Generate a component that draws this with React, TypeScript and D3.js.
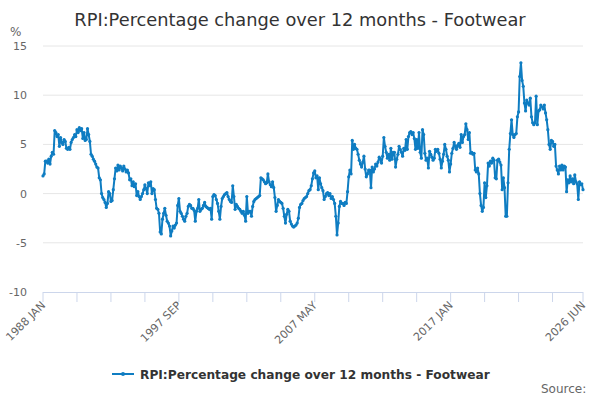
import React from 'react';
import * as d3 from 'd3';

// monthly values, % change over 12 months, 1988 JAN .. 2026 JUN
const y1988 = [1.8, 2.0, 3.3, 3.3, 3.1, 3.5, 3.0, 3.8, 4.2, 4.0, 6.4, 6.2];
const y1989 = [5.8, 6.0, 4.8, 5.7, 5.2, 5.0, 5.5, 5.3, 4.6, 4.5, 4.7, 4.5];
const y1990 = [5.2, 5.5, 5.7, 6.0, 5.8, 6.5, 6.2, 6.7, 6.4, 6.6, 5.6, 6.2];
const y1991 = [5.4, 5.5, 6.6, 6.0, 5.3, 4.0, 3.8, 3.5, 3.3, 3.0, 2.7, 2.6];
const y1992 = [1.6, 1.4, 0.0, -0.4, -0.6, -0.9, -1.4, -1.0, 0.2, 0.0, -0.8, -0.7];
const y1993 = [0.4, 1.5, 2.6, 2.3, 2.9, 2.4, 2.8, 2.6, 2.3, 2.8, 2.5, 2.2];
const y1994 = [2.4, 2.1, 1.4, 1.5, 0.8, 1.2, 0.7, 1.0, -0.2, 0.2, -0.3, -0.6];
const y1995 = [-0.3, 0.0, 0.4, 0.9, 0.5, 0.0, 1.1, 0.8, 1.2, 0.0, 0.5, 0.4];
const y1996 = [-0.6, -1.5, -1.6, -2.0, -3.9, -4.1, -2.6, -2.0, -1.5, -2.2, -2.8, -3.0];
const y1997 = [-3.3, -4.3, -3.8, -3.3, -3.5, -3.2, -3.0, -1.2, -0.5, -1.8, -2.0, -2.3];
const y1998 = [-2.6, -2.8, -2.3, -2.0, -1.3, -1.1, -1.2, -1.5, -1.5, -1.7, -2.8, -1.8];
const y1999 = [-1.5, -0.6, -1.8, -1.6, -1.5, -1.2, -0.9, -1.3, -1.4, -1.5, -1.6, -1.5];
const y2000 = [-2.6, -0.3, -0.1, -0.2, -0.6, -1.0, -1.8, -2.6, -1.3, -0.5, -0.3, -0.1];
const y2001 = [0.0, 0.1, -0.3, -0.6, -0.8, -0.9, 0.8, -0.3, -1.6, -1.1, -1.3, -1.5];
const y2002 = [-1.6, -1.8, -2.0, -1.8, -2.2, -2.8, -0.3, -2.0, -1.8, -1.8, -2.3, -1.3];
const y2003 = [-0.8, -0.6, -0.5, -0.4, -0.3, -0.2, 1.6, 1.5, 1.4, 1.2, 1.0, 1.1];
const y2004 = [2.0, 1.2, 0.9, 0.7, 1.2, 0.6, -0.4, -1.8, -1.2, -0.6, -0.8, -0.9];
const y2005 = [-1.0, -1.5, -2.3, -3.0, -2.1, -1.6, -1.8, -2.8, -3.1, -3.3, -3.4, -3.3];
const y2006 = [-3.2, -3.0, -2.5, -1.4, -1.1, -1.0, -0.7, -0.5, -0.4, -0.3, 0.0, 0.3];
const y2007 = [0.4, 0.8, 1.5, 2.1, 2.3, 1.6, 1.8, 0.4, 1.6, 1.0, 0.6, 0.3];
const y2008 = [-0.6, -0.3, 0.0, 0.1, -0.2, 0.0, -0.5, -0.3, -0.6, -1.0, -2.3, -4.2];
const y2009 = [-3.0, -1.3, -0.8, -1.0, -1.0, -1.2, -0.9, -1.0, 0.2, 1.7, 2.4, 2.0];
const y2010 = [5.4, 4.5, 5.0, 4.6, 4.5, 4.0, 3.4, 3.0, 2.7, 3.2, 3.8, 2.5];
const y2011 = [1.7, 2.0, 2.4, 2.4, 0.6, 2.7, 2.2, 2.5, 3.0, 2.8, 3.2, 3.7];
const y2012 = [3.5, 3.1, 3.8, 5.7, 4.8, 4.2, 3.6, 4.0, 3.4, 4.6, 3.5, 4.2];
const y2013 = [4.2, 2.7, 3.5, 4.0, 4.8, 4.5, 4.2, 3.8, 4.6, 4.4, 5.5, 4.5];
const y2014 = [5.8, 6.2, 6.3, 6.0, 6.2, 5.6, 4.5, 5.5, 4.6, 6.2, 4.2, 3.6];
const y2015 = [6.5, 6.0, 4.1, 3.4, 3.6, 2.6, 4.3, 4.0, 3.7, 3.4, 3.6, 4.5];
const y2016 = [4.3, 4.5, 4.1, 3.5, 2.6, 3.3, 4.0, 5.0, 4.5, 3.8, 3.4, 2.2];
const y2017 = [3.0, 4.1, 4.6, 5.2, 4.8, 4.5, 4.9, 5.1, 4.7, 6.0, 5.2, 5.8];
const y2018 = [6.0, 7.1, 6.5, 5.5, 6.2, 4.1, 4.2, 4.0, 4.1, 2.4, 2.2, 2.6];
const y2019 = [2.0, 0.0, -1.2, -1.8, -1.4, 1.1, -0.4, 0.8, 3.1, 2.8, 3.3, 3.1];
const y2020 = [3.6, 3.4, 1.6, 1.5, 3.4, 3.5, 3.2, 2.9, 0.4, 1.6, 0.6, -2.3];
const y2021 = [-2.3, 1.1, 4.5, 6.1, 7.5, 6.0, 5.7, 6.0, 6.1, 7.8, 8.3, 11.9];
const y2022 = [13.3, 11.5, 10.9, 9.2, 8.4, 9.5, 9.2, 9.0, 9.7, 7.8, 7.2, 7.0];
const y2023 = [7.2, 9.9, 7.0, 8.4, 8.5, 9.0, 8.8, 8.6, 9.0, 8.2, 7.5, 6.5];
const y2024 = [5.0, 4.5, 5.4, 5.3, 4.8, 5.0, 2.8, 2.4, 2.0, 2.8, 2.4, 2.9];
const y2025 = [2.4, 2.8, 2.7, 0.2, 1.4, 1.1, 1.8, 1.2, 1.5, 1.0, 1.9, 1.2];
const y2026 = [1.0, -0.6, 1.2, 0.9, 1.0, 0.4];

const values: number[] = [
  ...y1988, ...y1989, ...y1990, ...y1991, ...y1992, ...y1993, ...y1994, ...y1995,
  ...y1996, ...y1997, ...y1998, ...y1999, ...y2000, ...y2001, ...y2002, ...y2003,
  ...y2004, ...y2005, ...y2006, ...y2007, ...y2008, ...y2009, ...y2010, ...y2011,
  ...y2012, ...y2013, ...y2014, ...y2015, ...y2016, ...y2017, ...y2018, ...y2019,
  ...y2020, ...y2021, ...y2022, ...y2023, ...y2024, ...y2025, ...y2026,
];

const months = ['JAN', 'FEB', 'MAR', 'APR', 'MAY', 'JUN', 'JUL', 'AUG', 'SEP', 'OCT', 'NOV', 'DEC'];
const yTicks = [-10, -5, 0, 5, 10, 15];
const tickStep = 29;
const labelEvery = 4;

const title = 'RPI:Percentage change over 12 months - Footwear';
const lineColor = '#0f7dc2';
const font = '"DejaVu Sans", Verdana, sans-serif';

const monthLabel = (i: number) => `${1988 + Math.floor(i / 12)} ${months[i % 12]}`;

const App: React.FC = () => {
  const width = 600;
  const height = 400;
  const margin = { top: 46, right: 17, bottom: 108, left: 43 };
  const last = values.length - 1;

  const x = d3.scaleLinear().domain([0, last]).range([margin.left, width - margin.right]);
  const y = d3.scaleLinear().domain([-10, 15]).range([height - margin.bottom, margin.top]);

  const line = d3.line<number>()
    .x((_, i) => x(i))
    .y((d) => y(d));

  const ticks: number[] = d3.range(0, last, tickStep);
  ticks.push(last);
  const labels = ticks.filter((t, k) => k % labelEvery === 0 || t === last);

  const axisY = height - margin.bottom;

  return (
    <svg width={width} height={height} style={{ position: 'absolute', left: 0, top: 0, fontFamily: font }}>
      <rect width={width} height={height} fill="#fff" />
      <text x={width / 2} y={26} textAnchor="middle" fontSize={17.8} fill="#333">{title}</text>
      <text x={10} y={36} fontSize={12} fill="#666">%</text>

      {yTicks.map((t) => (
        <g key={t}>
          {t !== -10 && (
            <line x1={margin.left} x2={width - margin.right} y1={y(t)} y2={y(t)} stroke="#e6e6e6" />
          )}
          <text x={27} y={y(t) + 4} textAnchor="end" fontSize={11} fill="#666">{t}</text>
        </g>
      ))}

      <line x1={margin.left} x2={width - margin.right} y1={axisY + 0.5} y2={axisY + 0.5} stroke="#ccd6eb" />
      {ticks.map((t) => (
        <line key={t} x1={x(t)} x2={x(t)} y1={axisY} y2={axisY + 10} stroke="#ccd6eb" />
      ))}
      {labels.map((t) => (
        <text
          key={t}
          transform={`translate(${x(t) + 3},${axisY + 14}) rotate(-45)`}
          textAnchor="end"
          fontSize={11}
          fill="#666"
        >
          {monthLabel(t)}
        </text>
      ))}

      <path d={line(values) ?? ''} fill="none" stroke={lineColor} strokeWidth={2} strokeLinejoin="round" />
      {values.map((v, i) => (
        <circle key={i} cx={x(i)} cy={y(v)} r={1.6} fill={lineColor} />
      ))}

      <g transform="translate(112,374)">
        <line x1={0} x2={22} y1={0} y2={0} stroke={lineColor} strokeWidth={2} />
        <circle cx={11} cy={0} r={2} fill={lineColor} />
        <text x={28} y={4.5} fontSize={12.2} fontWeight="bold" fill="#333">{title}</text>
      </g>

      <text x={541} y={393} fontSize={12} fill="#666">Source:</text>
    </svg>
  );
};

export default App;
